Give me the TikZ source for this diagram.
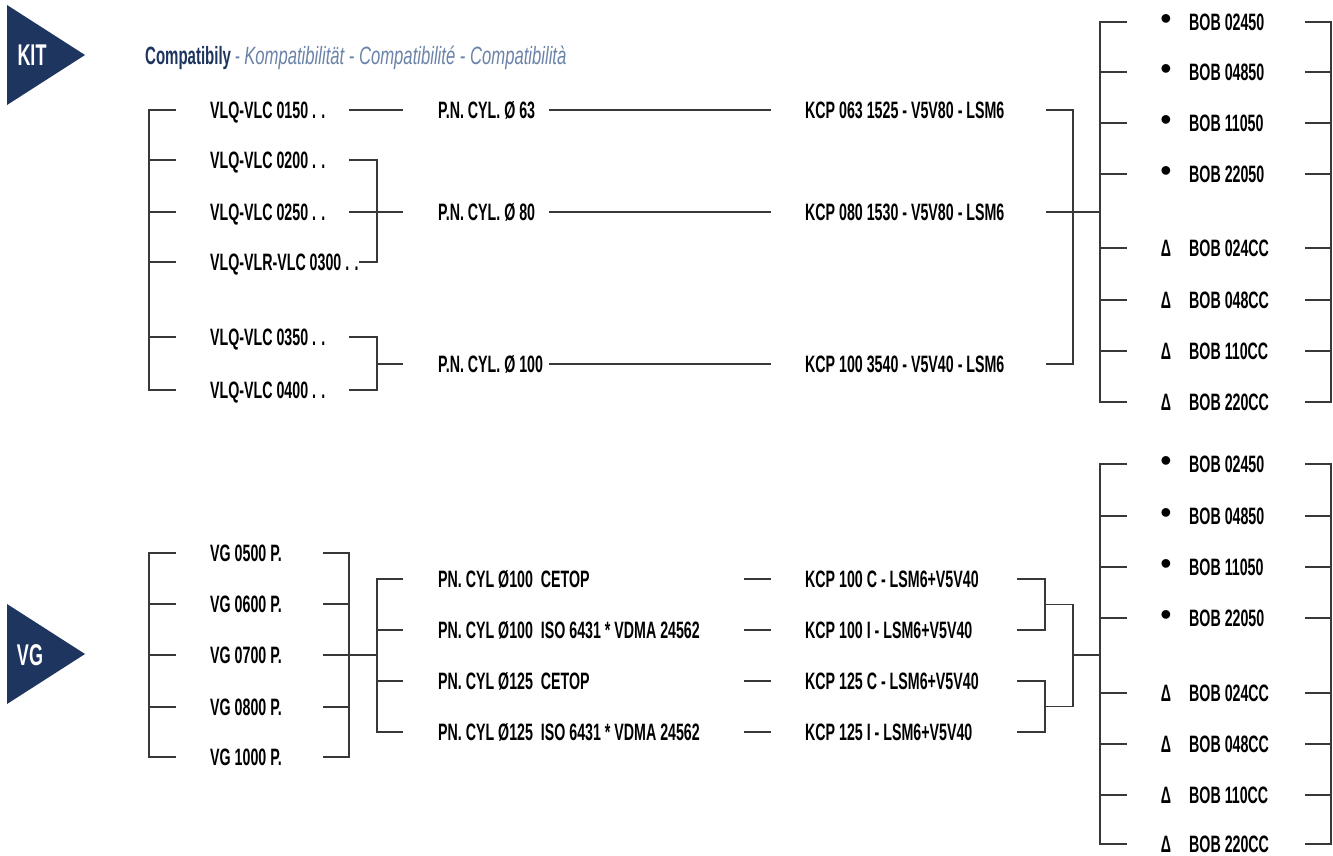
\documentclass[tikz,border=0pt]{standalone}
\usepackage{fontspec}
\setmainfont{Liberation Sans}[FakeStretch=0.6]
\newfontfamily\symfont{Liberation Sans}
\definecolor{navy}{HTML}{1E3560}
\definecolor{titlegrey}{HTML}{6C83A9}
\begin{document}
\begin{tikzpicture}[x=1pt,y=-1pt,
  ln/.style={line width=1.2pt, draw=black!78},
  lbl/.style={anchor=west, inner sep=0pt, text height=17pt, text depth=0pt, font=\bfseries\fontsize{23.7}{23.7}\selectfont},
  deltamark/.style={anchor=center, inner sep=0pt, font=\bfseries\fontsize{23.7}{23.7}\selectfont},
  dotmark/.style={anchor=center, inner sep=0pt, font=\symfont\fontsize{32}{32}\selectfont},
  tag/.style={anchor=center, inner sep=0pt, text=white, font=\bfseries\fontsize{30}{30}\selectfont}]
\useasboundingbox (0,0) rectangle (1333,855);
\fill[white] (0,0) rectangle (1333,855);
\foreach \c in {149,176,323,349,377,403,549,744,771,1017,1045,1046,1073,1100,1127,1305,1331}{\coordinate (x\c) at (\c,0);}

% ---------- KIT ----------
\fill[navy] (7,5) -- (7,105) -- (85,55) -- cycle;
\node[tag] (kit) at (32,55) {KIT};
\node[anchor=west, inner sep=0pt, text height=18pt, text depth=0pt, font=\fontsize{25}{25}\selectfont] (title) at (145,55)
  {\textcolor{navy}{\bfseries Compatibily}~\textcolor{titlegrey}{-~\scalebox{1.11}[1]{\itshape Kompatibilität - Compatibilité - Compatibilità}}};

\node[lbl] (v1) at (210,110) {VLQ-VLC 0150 . .};
\node[lbl] (v2) at (210,160) {VLQ-VLC 0200 . .};
\node[lbl] (v3) at (210,212) {VLQ-VLC 0250 . .};
\node[lbl] (v4) at (210,262) {VLQ-VLR-VLC 0300 . .};
\node[lbl] (v5) at (210,337) {VLQ-VLC 0350 . .};
\node[lbl] (v6) at (210,390) {VLQ-VLC 0400 . .};

\node[lbl] (p1) at (438,110) {P.N. CYL. Ø 63};
\node[lbl] (p2) at (438,212) {P.N. CYL. Ø 80};
\node[lbl] (p3) at (438,364) {P.N. CYL. Ø 100};

\node[lbl] (k1) at (805,110) {KCP 063 1525 - V5V80 - LSM6};
\node[lbl] (k2) at (805,212) {KCP 080 1530 - V5V80 - LSM6};
\node[lbl] (k3) at (805,364) {KCP 100 3540 - V5V40 - LSM6};

\foreach \i/\y in {1/22,2/72,3/123,4/174}{
  \node[dotmark] (bd\i) at (1166,\y) {•};}
\foreach \i/\y in {5/248,6/300,7/351,8/402}{
  \node[deltamark] (bd\i) at (1166,\y) {Δ};}
\node[lbl] (b1) at (1189,22) {BOB 02450};
\node[lbl] (b2) at (1189,72) {BOB 04850};
\node[lbl] (b3) at (1189,123) {BOB 11050};
\node[lbl] (b4) at (1189,174) {BOB 22050};
\node[lbl] (b5) at (1189,248) {BOB 024CC};
\node[lbl] (b6) at (1189,300) {BOB 048CC};
\node[lbl] (b7) at (1189,351) {BOB 110CC};
\node[lbl] (b8) at (1189,402) {BOB 220CC};

% left bracket
\draw[ln] (x176 |- v1) -| (x149 |- v6) -- (x176 |- v6);
\foreach \n in {v2,v3,v4,v5} \draw[ln] (x149 |- \n) -- (x176 |- \n);
% to P.N.
\draw[ln] (x349 |- v1) -- (x403 |- v1);
\draw[ln] (x349 |- v2) -| (x377 |- v4) -- (v4.east);
\draw[ln] (x349 |- v3) -- (x403 |- v3);
\draw[ln] (x349 |- v5) -| (x377 |- v6) -- (x349 |- v6);
\draw[ln] (x377 |- p3) -- (x403 |- p3);
% P.N. to KCP
\foreach \n in {p1,p2,p3} \draw[ln] (x549 |- \n) -- (x771 |- \n);
% KCP bracket
\draw[ln] (x1046 |- k1) -| (x1073 |- k3) -- (x1046 |- k3);
\draw[ln] (x1046 |- k2) -- (x1100 |- k2);
% BOB brackets
\draw[ln] (x1127 |- b1) -| (x1100 |- b8) -- (x1127 |- b8);
\foreach \n in {b2,b3,b4,b5,b6,b7} \draw[ln] (x1100 |- \n) -- (x1127 |- \n);
\draw[ln] (x1305 |- b1) -| (x1331 |- b8) -- (x1305 |- b8);
\foreach \n in {b2,b3,b4,b5,b6,b7} \draw[ln] (x1305 |- \n) -- (x1331 |- \n);

% ---------- VG ----------
\fill[navy] (7,604) -- (7,704) -- (85,654) -- cycle;
\node[tag] (vg) at (30,655) {VG};

\node[lbl] (g1) at (210,553) {VG 0500 P.};
\node[lbl] (g2) at (210,604) {VG 0600 P.};
\node[lbl] (g3) at (210,655) {VG 0700 P.};
\node[lbl] (g4) at (210,707) {VG 0800 P.};
\node[lbl] (g5) at (210,757) {VG 1000 P.};

\node[lbl] (q1) at (438,579) {PN. CYL Ø100\ \ CETOP};
\node[lbl] (q2) at (438,630) {PN. CYL Ø100\ \ ISO 6431 * VDMA 24562};
\node[lbl] (q3) at (438,681) {PN. CYL Ø125\ \ CETOP};
\node[lbl] (q4) at (438,732) {PN. CYL Ø125\ \ ISO 6431 * VDMA 24562};

\node[lbl] (m1) at (805,579) {KCP 100 C - LSM6+V5V40};
\node[lbl] (m2) at (805,630) {KCP 100 I - LSM6+V5V40};
\node[lbl] (m3) at (805,681) {KCP 125 C - LSM6+V5V40};
\node[lbl] (m4) at (805,732) {KCP 125 I - LSM6+V5V40};

\foreach \i/\y in {1/464,2/516,3/567,4/618}{
  \node[dotmark] (cd\i) at (1166,\y) {•};}
\foreach \i/\y in {5/693,6/744,7/795,8/844}{
  \node[deltamark] (cd\i) at (1166,\y) {Δ};}
\node[lbl] (c1) at (1189,464) {BOB 02450};
\node[lbl] (c2) at (1189,516) {BOB 04850};
\node[lbl] (c3) at (1189,567) {BOB 11050};
\node[lbl] (c4) at (1189,618) {BOB 22050};
\node[lbl] (c5) at (1189,693) {BOB 024CC};
\node[lbl] (c6) at (1189,744) {BOB 048CC};
\node[lbl] (c7) at (1189,795) {BOB 110CC};
\node[lbl] (c8) at (1189,844) {BOB 220CC};

\coordinate (j1) at (1045,604.5);
\coordinate (j2) at (1045,706.5);

\draw[ln] (x176 |- g1) -| (x149 |- g5) -- (x176 |- g5);
\foreach \n in {g2,g3,g4} \draw[ln] (x149 |- \n) -- (x176 |- \n);
\draw[ln] (x323 |- g1) -| (x349 |- g5) -- (x323 |- g5);
\foreach \n in {g2,g4} \draw[ln] (x323 |- \n) -- (x349 |- \n);
\draw[ln] (x323 |- g3) -- (x377 |- g3);
\draw[ln] (x403 |- q1) -| (x377 |- q4) -- (x403 |- q4);
\foreach \n in {q2,q3} \draw[ln] (x377 |- \n) -- (x403 |- \n);
\foreach \n in {q1,q2,q3,q4} \draw[ln] (x744 |- \n) -- (x771 |- \n);
\draw[ln] (x1017 |- m1) -| (x1045 |- m2) -- (x1017 |- m2);
\draw[ln] (x1017 |- m3) -| (x1045 |- m4) -- (x1017 |- m4);
\draw[ln] (j1) -| (x1073 |- j2) -- (j2);
\draw[ln] (x1073 |- g3) -- (x1100 |- g3);
\draw[ln] (x1127 |- c1) -| (x1100 |- c8) -- (x1127 |- c8);
\foreach \n in {c2,c3,c4,c5,c6,c7} \draw[ln] (x1100 |- \n) -- (x1127 |- \n);
\draw[ln] (x1305 |- c1) -| (x1331 |- c8) -- (x1305 |- c8);
\foreach \n in {c2,c3,c4,c5,c6,c7} \draw[ln] (x1305 |- \n) -- (x1331 |- \n);
\end{tikzpicture}
\end{document}
